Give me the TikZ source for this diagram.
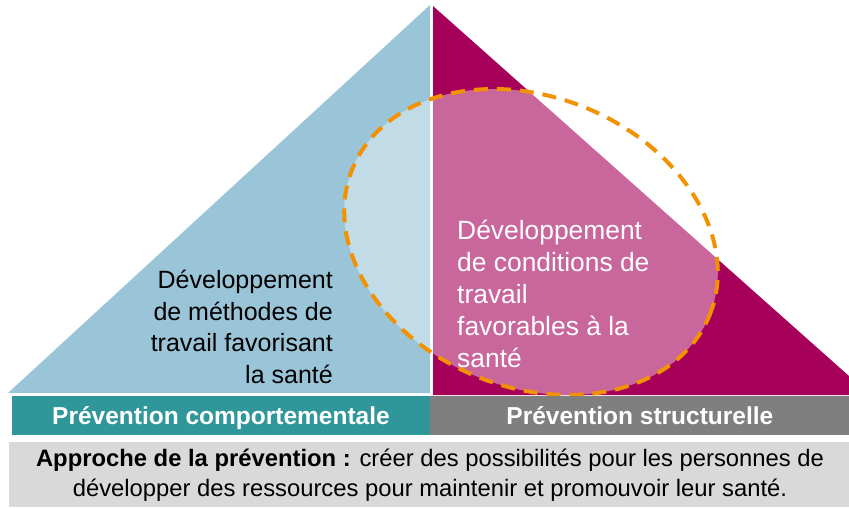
\documentclass[tikz,border=0pt]{standalone}
\usepackage{fontspec}
\setmainfont{Liberation Sans}
\usetikzlibrary{positioning}
\definecolor{skyblue}{HTML}{9AC5D8}
\definecolor{berry}{HTML}{A6005B}
\definecolor{barteal}{HTML}{2F969A}
\definecolor{bargray}{HTML}{7F7F7F}
\definecolor{notegray}{HTML}{D9D9D9}
\definecolor{ringorange}{HTML}{F39200}

\begin{document}
\begin{tikzpicture}[x=1pt,y=-1pt,
    bar/.style={minimum height=39pt,inner sep=0pt,text=white,text height=20pt,text depth=3pt,
                font=\bfseries\fontsize{24.5}{29}\selectfont},
    desc/.style={inner sep=0pt,font=\fontsize{25}{31.5}\selectfont}]
  \useasboundingbox (0,0) rectangle (849,507);

  % the two halves of the triangle
  \fill[skyblue] (430,5) -- (430,393) -- (8,393) -- cycle;
  \fill[berry] (433,6) -- (849,376) -- (849,395) -- (433,395) -- cycle;

  % overlap ring
  \draw[ringorange,line width=4pt,dash pattern=on 14pt off 9pt,fill=white,fill opacity=0.4,
        rotate around={-22.5:(531,242)}] (531,242) ellipse [x radius=193pt,y radius=145pt];

  \node[desc,align=right,anchor=base east] (methods) at (333,383)
       {Développement\\de méthodes de\\travail favorisant\\la santé};
  \node[desc,align=left,anchor=base west,text=white,font=\fontsize{26.4}{32}\selectfont]
       (conditions) at (457,367)
       {Développement\\de conditions de\\travail\\favorables à la\\santé};

  % bars at the foot
  \node[bar,fill=barteal,minimum width=418pt] (behav) at (221,415.5) {Prévention comportementale};
  \node[bar,fill=bargray,minimum width=419pt,right=0pt of behav] (struct) {Prévention structurelle};
  \node[fill=notegray,minimum width=840pt,minimum height=65pt,inner sep=0pt] (approach) at (429,474.5) {};
  \node[inner sep=0pt,align=center,anchor=base,font=\fontsize{23.8}{30}\selectfont]
       (approachtext) at (430,496.5)
       {\textbf{Approche de la prévention :} créer des possibilités pour les personnes de\\développer des ressources pour maintenir et promouvoir leur santé.};
\end{tikzpicture}
\end{document}
